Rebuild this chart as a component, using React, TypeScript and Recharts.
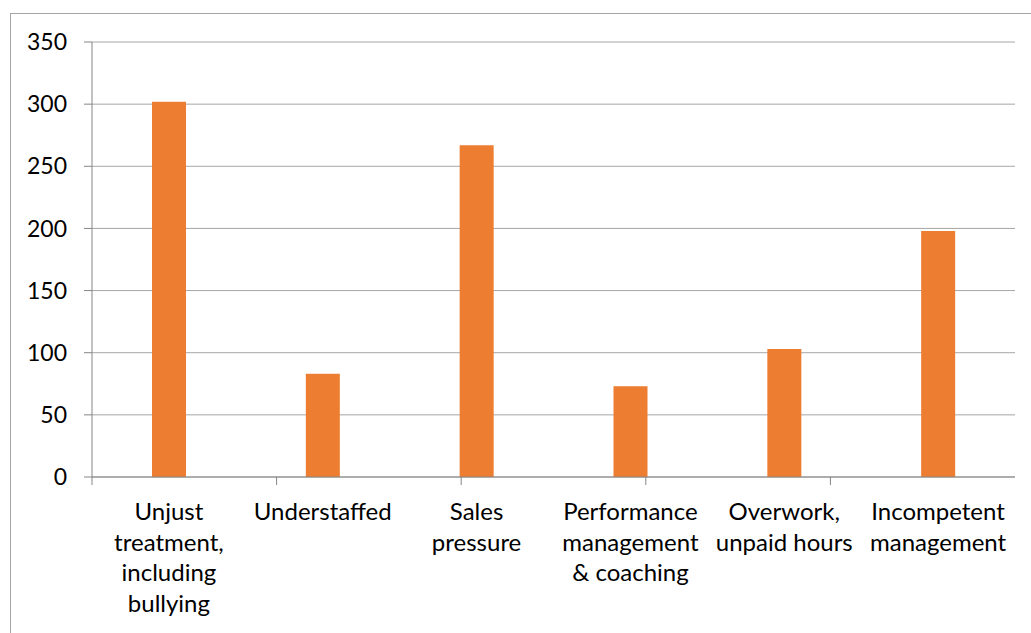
import { BarChart, Bar, XAxis, YAxis, CartesianGrid } from 'recharts';

const categories = [
  'Unjust\ntreatment,\nincluding\nbullying',
  'Understaffed',
  'Sales\npressure',
  'Performance\nmanagement\n& coaching',
  'Overwork,\nunpaid hours',
  'Incompetent\nmanagement',
];
const counts = [302, 83, 267, 73, 103, 198];
const yTicks = [0, 50, 100, 150, 200, 250, 300, 350];
const boundaryTicks = [0, 1, 2, 3, 4, 5, 6];

const data = categories.map((name, i) => ({ name, count: counts[i] }));

const FONT = 'Lato, "Open Sans", sans-serif';

const CategoryTick = (props: any) => {
  const { x, y, payload } = props;
  const lines = String(payload.value).split('\n');
  return (
    <text x={x} y={y} textAnchor="middle" fill="#000" fontSize={24} fontFamily={FONT}>
      {lines.map((line, i) => (
        <tspan key={i} x={x} dy={i === 0 ? 27 : 30.5}>
          {line}
        </tspan>
      ))}
    </text>
  );
};

const NoTick = () => <g />;

export default function App() {
  return (
    <div style={{ position: 'fixed', left: 0, top: 0, width: 1031, height: 633, overflow: 'hidden', background: '#fff' }}>
      <div
        style={{
          position: 'absolute',
          left: 10,
          top: 13,
          width: 1100,
          height: 700,
          border: '1px solid #a6a6a6',
        }}
      />
      <div style={{ position: 'absolute', left: 0, top: 0 }}>
        <BarChart
          width={1031}
          height={633}
          data={data}
          margin={{ top: 42, right: 16, left: 0, bottom: 0 }}
          barCategoryGap={60}
        >
          <CartesianGrid vertical={false} stroke="#a6a6a6" />
          <XAxis
            xAxisId="bounds"
            type="number"
            domain={[0, 6]}
            ticks={boundaryTicks}
            tick={<NoTick />}
            tickSize={8}
            height={8}
            axisLine={{ stroke: '#868686' }}
            tickLine={{ stroke: '#868686' }}
          />
          <XAxis
            xAxisId="cat"
            dataKey="name"
            interval={0}
            height={148}
            axisLine={false}
            tickLine={false}
            tick={<CategoryTick />}
          />
          <YAxis
            domain={[0, 350]}
            ticks={yTicks}
            width={92}
            tickSize={8}
            tickMargin={17}
            axisLine={{ stroke: '#868686' }}
            tickLine={{ stroke: '#868686' }}
            tick={{ fill: '#000', fontSize: 23, fontFamily: FONT }}
          />
          <Bar xAxisId="cat" dataKey="count" fill="#ed7d31" isAnimationActive={false} />
        </BarChart>
      </div>
    </div>
  );
}
